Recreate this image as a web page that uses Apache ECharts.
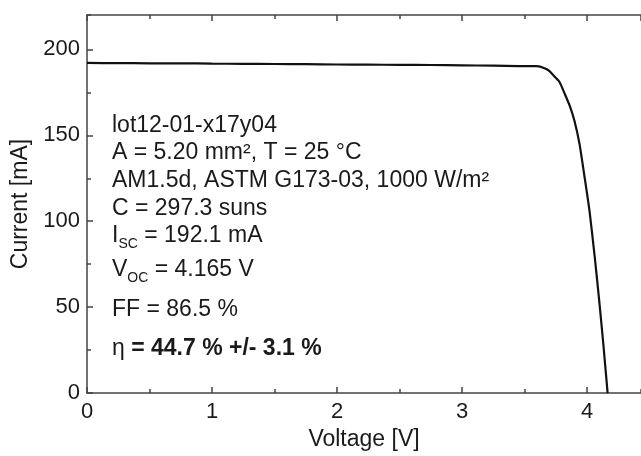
<!DOCTYPE html>
<html><head><meta charset="utf-8">
<script src="https://cdn.jsdelivr.net/npm/echarts@6/dist/echarts.min.js"></script>
<style>html,body{margin:0;padding:0;background:#fff}#c{width:641px;height:456px}</style>
</head><body><div id="c"></div>
<script>
// ---- data ----
const voltage = [0, 0.25, 0.5, 0.75, 1.0, 1.25, 1.5, 1.75, 2.0, 2.25, 2.5, 2.75, 3.0, 3.25, 3.45, 3.6, 3.66, 3.70, 3.74, 3.78, 3.82, 3.86, 3.90, 3.94, 3.98, 4.02, 4.06, 4.10, 4.13, 4.165];
const current = [192.1, 192.0, 191.9, 191.9, 191.7, 191.6, 191.5, 191.4, 191.2, 191.1, 191.0, 190.9, 190.7, 190.5, 190.3, 190.2, 189.0, 187.4, 184.2, 181.0, 174.5, 167.5, 158.3, 145.0, 126.0, 106.0, 80.5, 52.0, 29.0, 0];
const xTickLabels = ['0', '1', '2', '3', '4'];
const yTickLabels = ['0', '50', '100', '150', '200'];
const infoLines = [
  'lot12-01-x17y04',
  'A = 5.20 mm², T = 25 °C',
  'AM1.5d, ASTM G173-03, 1000 W/m²',
  'C = 297.3 suns',
  'I{sub|SC} = 192.1 mA',
  'V{sub|OC} = 4.165 V',
  'FF = 86.5 %',
  'η{b| = 44.7 % +/- 3.1 %}'
];
const xTitle = 'Voltage [V]';
const yTitle = 'Current [mA]';

// ---- layout / style ----
const FONT = '"Liberation Sans", Arial, Helvetica, sans-serif';
const TXT = '#1a1a1a';
const AX = '#444';
const X_MAX = 4.432;   // visible right edge of the (cropped) plot frame
const lineCenters = [126, 153, 180.5, 208.5, 236, 270, 310, 349];

const chart = echarts.init(document.getElementById('c'), null, {renderer: 'canvas'});

function xAx(pos, step, len, opts) {
  return Object.assign({
    type: 'value', gridIndex: 0, position: pos, min: 0, max: X_MAX, interval: step,
    axisLine: {show: false, onZero: false, lineStyle: {color: AX, width: 1.5}},
    axisTick: {show: true, inside: true, length: len, lineStyle: {color: AX, width: 1.5}},
    axisLabel: {show: false},
    splitLine: {show: false}
  }, opts || {});
}
function yAx(step, len, opts) {
  return Object.assign({
    type: 'value', gridIndex: 0, position: 'left', min: 0, max: 220, interval: step,
    axisLine: {show: false, onZero: false, lineStyle: {color: AX, width: 1.5}},
    axisTick: {show: true, inside: true, length: len, lineStyle: {color: AX, width: 1.5}},
    axisLabel: {show: false},
    splitLine: {show: false}
  }, opts || {});
}

const option = {
  backgroundColor: '#fff',
  animation: false,
  grid: {left: 87, top: 15, right: 0, height: 381, containLabel: false},
  xAxis: [
    xAx('bottom', 1, 6, {
      axisLine: {show: true, onZero: false, lineStyle: {color: AX, width: 1.5}},
      axisLabel: {show: true, fontSize: 22, color: TXT, fontFamily: FONT, margin: 8, showMaxLabel: false,
        formatter: function (v) { const i = xTickLabels.indexOf(String(v)); return i >= 0 ? xTickLabels[i] : ''; }},
      name: xTitle, nameLocation: 'middle', nameGap: 33,
      nameTextStyle: {fontSize: 23, color: TXT, fontFamily: FONT}
    }),
    xAx('bottom', 0.5, 4),
    xAx('top', 1, 6, {axisLine: {show: true, onZero: false, lineStyle: {color: AX, width: 1.5}}}),
    xAx('top', 0.5, 4)
  ],
  yAxis: [
    yAx(50, 6, {
      axisLine: {show: true, onZero: false, lineStyle: {color: AX, width: 1.5}},
      axisLabel: {show: true, fontSize: 22, color: TXT, fontFamily: FONT, margin: 7, showMaxLabel: false,
        formatter: function (v) { const i = yTickLabels.indexOf(String(v)); return i >= 0 ? yTickLabels[i] : ''; }},
      name: yTitle, nameLocation: 'middle', nameGap: 52,
      nameTextStyle: {fontSize: 23, color: TXT, fontFamily: FONT}
    }),
    yAx(25, 4)
  ],
  series: [{
    type: 'line',
    xAxisIndex: 0, yAxisIndex: 0,
    data: voltage.map((v, i) => [v, current[i]]),
    showSymbol: false,
    smooth: 0.2,
    lineStyle: {color: '#111', width: 2.2},
    silent: true
  }],
  graphic: infoLines.map((t, i) => ({
    type: 'text',
    x: 112, y: lineCenters[i],
    silent: true,
    style: {
      text: t,
      fill: TXT,
      fontSize: 23, fontFamily: FONT,
      align: 'left', verticalAlign: 'middle',
      rich: {
        sub: {fontSize: 14, lineHeight: 14, padding: [16, 0, 0, 0], fill: TXT, fontFamily: FONT},
        b: {fontSize: 23, fontWeight: 'bold', fill: TXT, fontFamily: FONT}
      }
    }
  }))
};
chart.setOption(option);
</script>
</body></html>
